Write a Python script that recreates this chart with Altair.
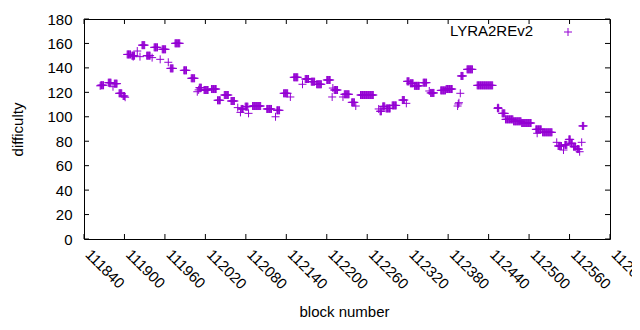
import altair as alt
import pandas as pd

# ---- data (runs of blocks with equal difficulty) ----
seg_start = [111865, 111876, 111885, 111892, 111898, 111904, 111911, 111926, 111933, 111944,
             111956, 111968, 111975, 111988, 111999, 112011, 112018, 112029, 112038, 112048,
             112058, 112073, 112079, 112090, 112111, 112126, 112136, 112151, 112168, 112177,
             112185, 112200, 112211, 112226, 112237, 112250, 112279, 112283, 112288, 112297,
             112312, 112319, 112324, 112330, 112343, 112354, 112369, 112377, 112399, 112408,
             112423, 112453, 112460, 112465, 112477, 112489, 112510, 112520, 112543, 112553,
             112559, 112562, 112566, 112571, 112579]
seg_end = [111869, 111880, 111889, 111896, 111900, 111909, 111915, 111930, 111938, 111949,
           111961, 111972, 111982, 111992, 112004, 112014, 112024, 112036, 112042, 112054,
           112063, 112076, 112083, 112102, 112118, 112130, 112142, 112157, 112173, 112182,
           112192, 112205, 112216, 112233, 112241, 112269, 112281, 112286, 112294, 112303,
           112315, 112322, 112328, 112337, 112348, 112359, 112376, 112386, 112402, 112416,
           112446, 112455, 112464, 112476, 112488, 112503, 112518, 112534, 112548, 112556,
           112561, 112564, 112569, 112574, 112581]
seg_value = [125.8, 127.9, 127.1, 119.2, 117.0, 151.0, 150.0, 158.6, 150.0, 156.8,
             155.2, 139.6, 160.1, 138.0, 131.5, 123.8, 121.9, 122.7, 113.5, 117.8,
             112.9, 106.4, 108.3, 108.8, 106.4, 105.3, 119.2, 132.3, 130.9, 128.7,
             126.6, 130.1, 121.9, 118.4, 111.8, 117.8, 104.5, 108.5, 106.8, 109.3,
             113.7, 129.0, 127.4, 125.3, 127.9, 119.5, 121.6, 122.7, 133.4, 138.8,
             125.7, 107.0, 102.8, 97.9, 96.3, 94.9, 89.7, 87.3, 76.1, 77.0,
             81.5, 78.3, 75.5, 73.6, 92.5]

single_block = [111864, 111883, 111901, 111913, 111919, 111923, 111941, 111953, 111965, 112008,
                112010, 112068, 112072, 112084, 112124, 112146, 112164, 112208, 112209, 112224,
                112243, 112277, 112318, 112352, 112394, 112395, 112396, 112398, 112454, 112512,
                112541, 112551, 112575, 112578]
single_value = [125.3, 124.6, 116.0, 149.2, 153.8, 149.2, 148.4, 147.0, 144.6, 120.5,
                122.0, 107.5, 103.6, 102.8, 100.0, 116.2, 126.6, 116.2, 123.5, 116.2,
                108.8, 106.4, 111.0, 121.1, 108.8, 110.5, 111.5, 119.2, 107.5, 86.5,
                79.1, 72.8, 71.4, 79.1]

x_ticks = [111840, 111900, 111960, 112020, 112080, 112140, 112200,
           112260, 112320, 112380, 112440, 112500, 112560, 112620]
y_ticks = [0, 20, 40, 60, 80, 100, 120, 140, 160, 180]
series_name = "LYRA2REv2"

# ---- build table ----
blocks, values = [], []
for s, e, v in zip(seg_start, seg_end, seg_value):
    for b in range(s, e + 1):
        blocks.append(b)
        values.append(v)
blocks += single_block
values += single_value
df = pd.DataFrame({"block": blocks, "difficulty": values, "series": series_name})

W, H = 526, 220
PURPLE = "#9400D3"
PLUS = "M-1,0H1M0,-1V1"
FONT = "Liberation Sans"
FS = 15
TL = 5

xscale = alt.Scale(domain=[x_ticks[0], x_ticks[-1]], nice=False, zero=False)
yscale = alt.Scale(domain=[y_ticks[0], y_ticks[-1]], nice=False, zero=False)

xaxis = alt.Axis(values=x_ticks, format="d", title="block number",
                 grid=False, domain=False, ticks=False, tickSize=0,
                 labelAngle=45, labelAlign="left", labelBaseline="alphabetic",
                 labelPadding=16, labelOffset=0, labelFont=FONT,
                 labelFontSize=FS, labelColor="black", labelOverlap=False,
                 labelFlush=False, titleFont=FONT, titleFontSize=FS,
                 titleFontWeight="normal", titleColor="black",
                 titleX=260, titleY=77, titleAlign="center",
                 titleBaseline="alphabetic")
yaxis = alt.Axis(values=y_ticks, title="difficulty", grid=False,
                 domain=False, ticks=False, tickSize=0, labelPadding=12,
                 labelFont=FONT, labelFontSize=FS, labelColor="black",
                 labelFlush=False, labelOverlap=False,
                 titleFont=FONT, titleFontSize=FS, titleFontWeight="normal",
                 titleColor="black", titleAngle=270, titleX=-67, titleY=110,
                 titleAlign="center", titleBaseline="middle")

points = alt.Chart(df).mark_point(
    shape=PLUS, filled=False, size=64, strokeWidth=1, opacity=1
).encode(
    x=alt.X("block:Q", scale=xscale, axis=xaxis),
    y=alt.Y("difficulty:Q", scale=yscale, axis=yaxis),
    color=alt.Color("series:N",
                    scale=alt.Scale(domain=[series_name], range=[PURPLE]),
                    legend=None),
)

# key (gnuplot style: text on the left, symbol on the right)
key_df = pd.DataFrame({"series": [series_name]})
key_text = alt.Chart(key_df).mark_text(
    align="right", baseline="middle", font=FONT, fontSize=FS, color="black"
).encode(x=alt.value(449), y=alt.value(12), text="series:N")
key_symbol = alt.Chart(key_df).mark_point(
    shape=PLUS, filled=False, size=64, strokeWidth=1, opacity=1, color=PURPLE
).encode(x=alt.value(484), y=alt.value(13))

xt = pd.DataFrame({"block": x_ticks})
yt = pd.DataFrame({"difficulty": y_ticks})

bottom_ticks = alt.Chart(xt).mark_rule(color="black", strokeWidth=1).encode(
    x=alt.X("block:Q", scale=xscale, axis=xaxis),
    y=alt.value(H), y2=alt.value(H - TL))
top_ticks = alt.Chart(xt).mark_rule(color="black", strokeWidth=1).encode(
    x=alt.X("block:Q", scale=xscale, axis=xaxis),
    y=alt.value(0), y2=alt.value(TL))
left_ticks = alt.Chart(yt).mark_rule(color="black", strokeWidth=1).encode(
    y=alt.Y("difficulty:Q", scale=yscale, axis=yaxis),
    x=alt.value(0), x2=alt.value(TL))
right_ticks = alt.Chart(yt).mark_rule(color="black", strokeWidth=1).encode(
    y=alt.Y("difficulty:Q", scale=yscale, axis=yaxis),
    x=alt.value(W - TL), x2=alt.value(W))

chart = alt.layer(points, bottom_ticks, top_ticks, left_ticks, right_ticks,
                  key_text, key_symbol).properties(
    width=W, height=H,
    autosize=alt.AutoSizeParams(type="none"),
    padding={"left": 76, "top": 11, "right": 22, "bottom": 79},
    background="white",
).configure_view(stroke="black", strokeWidth=1)

chart.save("out.html", embed_options={"renderer": "svg", "actions": False})
